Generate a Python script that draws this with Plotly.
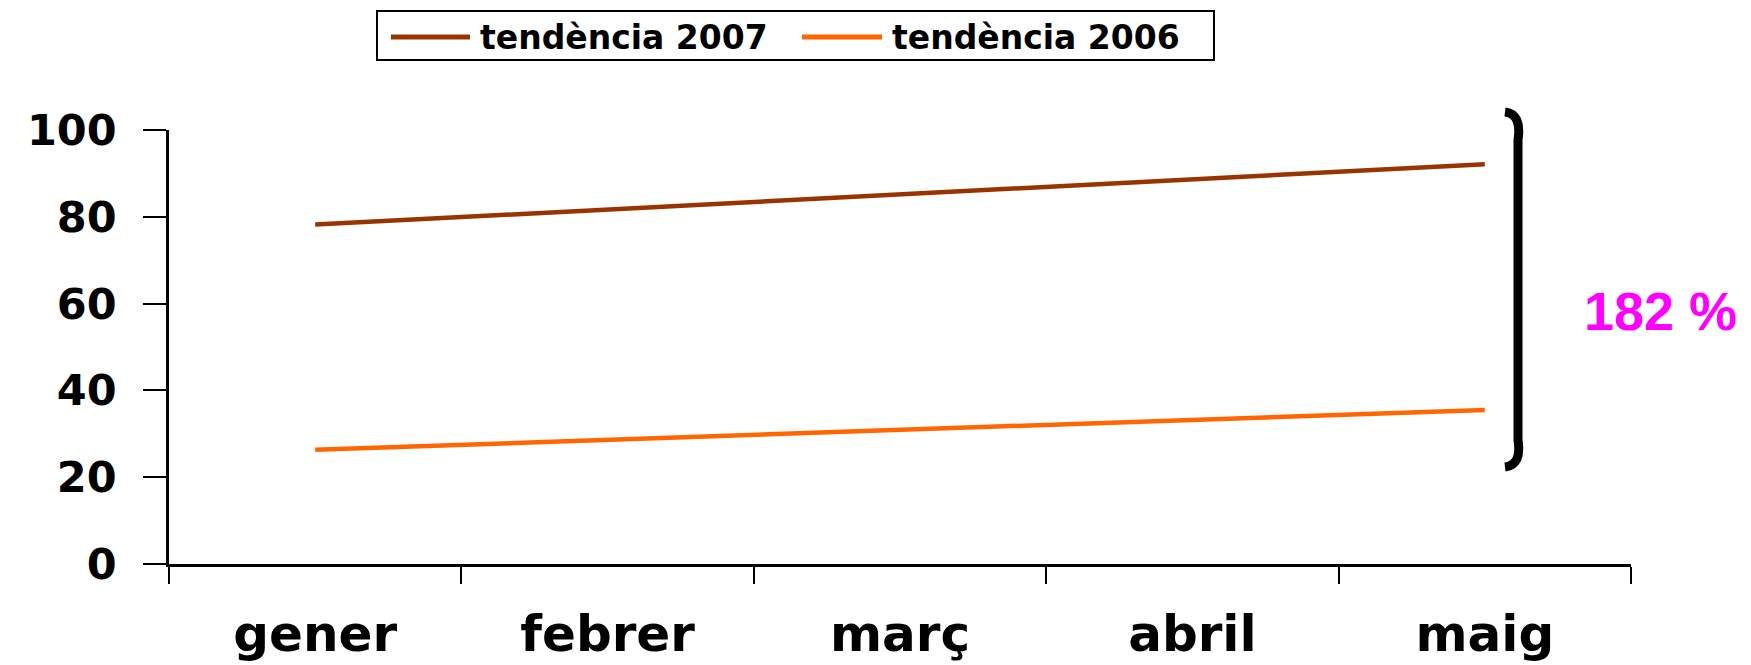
import plotly.graph_objects as go

months = ["gener", "febrer", "març", "abril", "maig"]
series_names = ["tendència 2007", "tendència 2006"]
trend_2007 = [78.2, 81.7, 85.2, 88.6, 92.1]
trend_2006 = [26.3, 28.6, 30.9, 33.2, 35.5]
y_ticks = [0, 20, 40, 60, 80, 100]
diff_label = "182 %"

colors = ["#993300", "#FF6600"]

W, H = 1751, 665
L, R, T, B = 169, 120, 130, 101
PW, PH = W - L - R, H - T - B


def px(x):
    return (x - L) / PW


def py(y):
    return (H - B - y) / PH


fig = go.Figure()
for name, vals, col in zip(series_names, [trend_2007, trend_2006], colors):
    fig.add_trace(go.Scatter(x=months, y=vals, mode="lines", name=name,
                             line=dict(color=col, width=4.5), showlegend=False))

shapes = []
annotations = []

# legend box
shapes.append(dict(type="rect", xref="paper", yref="paper",
                   x0=px(377), x1=px(1214), y0=py(60), y1=py(11),
                   line=dict(color="black", width=2), fillcolor="white"))
leg_items = [(391, 470, 478), (802, 882, 890)]
for (lx0, lx1, tx), name, col in zip(leg_items, series_names, colors):
    shapes.append(dict(type="line", xref="paper", yref="paper",
                       x0=px(lx0), x1=px(lx1), y0=py(37), y1=py(37),
                       line=dict(color=col, width=5)))
    annotations.append(dict(text=name, xref="paper", yref="paper",
                            x=px(tx), y=py(37), xanchor="left", yanchor="middle",
                            showarrow=False,
                            font=dict(family="DejaVu Sans", size=33, color="black", weight="bold")))

# bracket
path = (f"M {px(1505)},{py(112)} Q {px(1522)},{py(114)} {px(1518)},{py(140)} "
        f"L {px(1518)},{py(440)} Q {px(1522)},{py(465)} {px(1505)},{py(467)}")
shapes.append(dict(type="path", xref="paper", yref="paper", path=path,
                   line=dict(color="black", width=9)))

annotations.append(dict(text=diff_label, xref="paper", yref="paper",
                        x=px(1660), y=py(311), xanchor="center", yanchor="middle",
                        showarrow=False,
                        font=dict(family="Liberation Sans", size=54, color="#FF00FF", weight="bold")))

fig.update_layout(
    width=W, height=H,
    margin=dict(l=L, r=R, t=T, b=B, pad=0, autoexpand=False),
    plot_bgcolor="white", paper_bgcolor="white",
    shapes=shapes, annotations=annotations,
    showlegend=False,
)
fig.update_xaxes(
    type="category", categoryorder="array", categoryarray=months,
    range=[-0.5, 4.5], showgrid=False, zeroline=False, automargin=False,
    showline=True, linecolor="black", linewidth=2.5,
    ticks="outside", tickson="boundaries", ticklen=17, tickwidth=2, tickcolor="black",
    ticklabelstandoff=24,
    tickfont=dict(family="DejaVu Sans", size=50, color="black", weight="bold"),
)
fig.update_yaxes(
    range=[0, 100], tickvals=y_ticks, showgrid=False, zeroline=False, automargin=False,
    showline=True, linecolor="black", linewidth=2.5,
    ticks="outside", ticklen=23, tickwidth=2, tickcolor="black",
    ticklabelstandoff=18,
    tickfont=dict(family="DejaVu Sans", size=43, color="black", weight="bold"),
)

fig.write_html("out.html", config={"displayModeBar": False},
               post_script="document.body.style.margin='0';document.body.style.overflow='hidden';")
